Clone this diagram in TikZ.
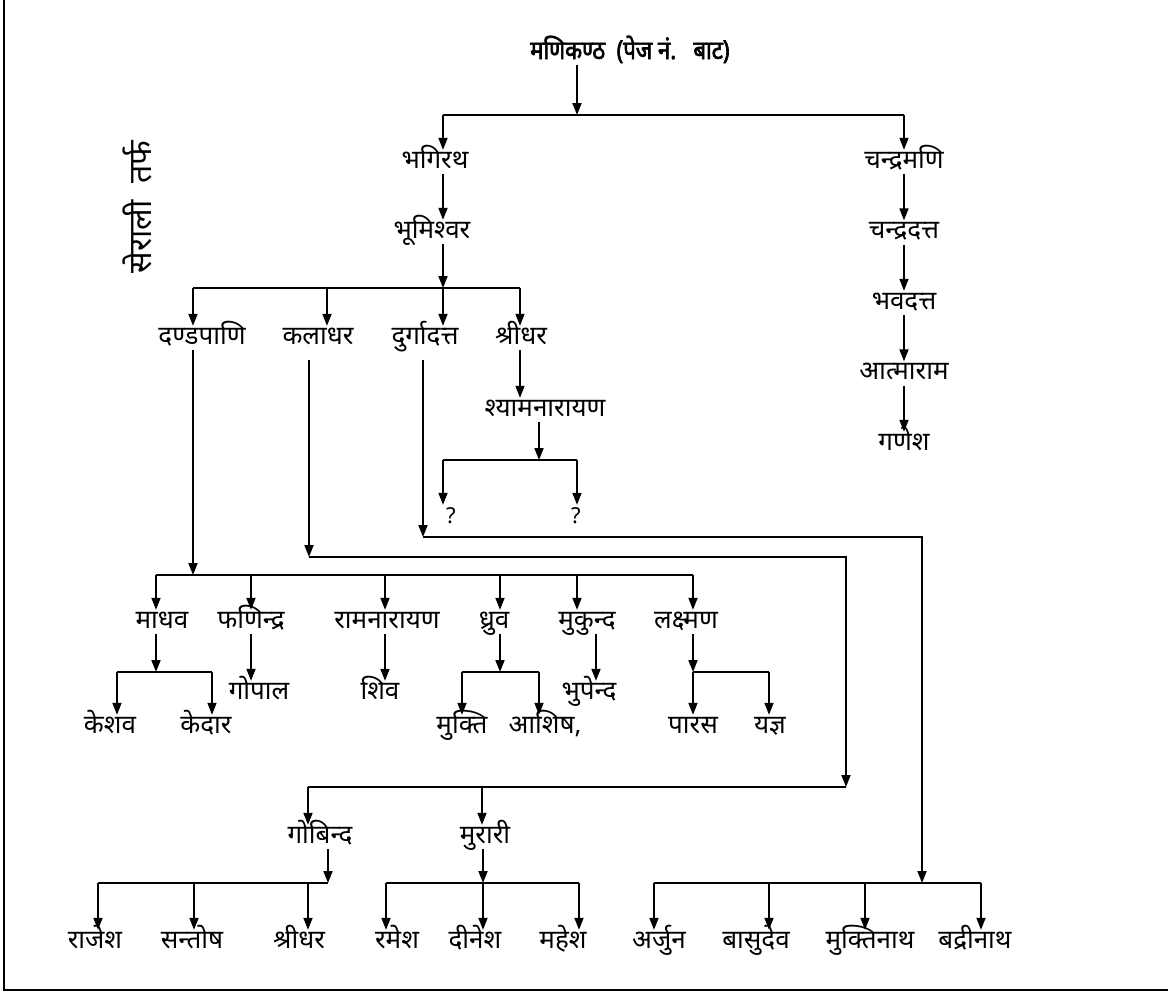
\documentclass[tikz,border=0pt]{standalone}
\usepackage{fontspec}
\usepackage{tikz}
\usetikzlibrary{arrows.meta, positioning, calc}
\newfontfamily\devfont[Script=Devanagari]{Noto Sans}
\newfontfamily\devbold[Script=Devanagari, FakeBold=2.5, FakeStretch=0.85]{Noto Sans}

\begin{document}
\begin{tikzpicture}[
    x=1pt, y=-1pt,
    node distance=70.5pt, on grid,
    person/.style={inner sep=0pt, text height=18pt, text depth=6pt,
                   font=\devfont\fontsize{26}{30}\selectfont},
    arrow/.style={-{Triangle[length=12pt, width=9pt]}, line width=1.8pt},
    bar/.style={line width=1.8pt}
]
\useasboundingbox (0,0) rectangle (1168,993);

% frame
\draw[line width=1.5pt] (4,0) -- (4,990) -- (1168,990);

\node[person, anchor=west, font=\devbold\fontsize{26}{30}\selectfont] (title) at (530,53) {मणिकण्ठ\ \ (पेज नं.\ \ \ बाट)};
\node[rotate=90, inner sep=0pt, font=\devfont\fontsize{32}{36}\selectfont] (tarf) at (137,207) {सेराली\ \ तर्फ};

% upper part
\node[person] (bhagirath) at (435,162) {भगिरथ};
\node[person] (bhumishwar) at (432,232) {भूमिश्वर};
\node[person] (chandramani) at (904,162) {चन्द्रमणि};
\node[person, below=of chandramani] (chandradatta) {चन्द्रदत्त};
\node[person, below=of chandradatta] (bhavadatta) {भवदत्त};
\node[person, below=of bhavadatta] (atmaram) {आत्माराम};
\node[person, below=of atmaram] (ganesh) {गणेश};

\node[person] (dandapani) at (202,338) {दण्डपाणि};
\node[person] (kaladhar) at (318,338) {कलाधर};
\node[person] (durgadatta) at (425,338) {दुर्गादत्त};
\node[person] (shridhar) at (521,338) {श्रीधर};
\node[person] (shyam) at (545,410) {श्यामनारायण};
\node[person, font=\devfont\fontsize{22}{26}\selectfont] (qa) at (451,517) {?};
\node[person, font=\devfont\fontsize{22}{26}\selectfont] (qb) at (576,517) {?};

% dandapani line
\node[person] (madhav) at (162,622) {माधव};
\node[person] (phanindra) at (251,622) {फणिन्द्र};
\node[person] (ramnarayan) at (387,622) {रामनारायण};
\node[person] (dhruv) at (494,622) {ध्रुव};
\node[person] (mukunda) at (587,622) {मुकुन्द};
\node[person] (lakshman) at (686,622) {लक्ष्मण};
\node[person] (gopal) at (259,693) {गोपाल};
\node[person] (shiva) at (380,693) {शिव};
\node[person] (bhupendra) at (589,693) {भुपेन्द};
\node[person] (keshav) at (110,727) {केशव};
\node[person] (kedar) at (206,727) {केदार};
\node[person] (mukti) at (462,727) {मुक्ति};
\node[person] (ashish) at (545,727) {आशिष,};
\node[person] (paras) at (693,727) {पारस};
\node[person] (yajna) at (770,727) {यज्ञ};

% kaladhar line
\node[person] (govinda) at (320,837) {गोबिन्द};
\node[person] (murari) at (485,837) {मुरारी};
\node[person] (rajesh) at (95,942) {राजेश};
\node[person] (santosh) at (192,942) {सन्तोष};
\node[person] (shridharB) at (299,942) {श्रीधर};
\node[person] (ramesh) at (397,942) {रमेश};
\node[person] (dinesh) at (475,942) {दीनेश};
\node[person] (mahesh) at (563,942) {महेश};

% durgadatta line
\node[person] (arjun) at (659,942) {अर्जुन};
\node[person] (basudev) at (756,942) {बासुदेव};
\node[person] (muktinath) at (870,942) {मुक्तिनाथ};
\node[person] (badrinath) at (975,942) {बद्रीनाथ};

% junctions
\coordinate (jTop) at (577,115);
\coordinate (jA) at (443,115);
\coordinate (jC) at (443,288);
\coordinate (jShyam) at (539,460);
\coordinate (j4) at (193,575);
\coordinate (jMadhav) at (156,672);
\coordinate (jDhruv) at (500,672);
\coordinate (jLaks) at (693,672);
\coordinate (kBend) at (309,557);
\coordinate (kTurn) at (846,557);
\coordinate (jR7) at (846,787);
\coordinate (dBend) at (423,537);
\coordinate (dTurn) at (922,537);
\coordinate (jR8) at (922,883);
\coordinate (jGov) at (328,883);
\coordinate (jMur) at (483,883);

% top
\draw[arrow] (jTop |- title.south) -- (jTop);
\draw[bar] (jA) -- (jA -| chandramani);
\draw[arrow] (jA) -- (jA |- bhagirath.north);
\draw[arrow] (jA -| chandramani) -- (chandramani);
\draw[arrow] (jA |- bhagirath.south) -- (jA |- bhumishwar.north);
\draw[arrow] (jA |- bhumishwar.south) -- (jC);
\draw[arrow] (chandramani) -- (chandradatta);
\draw[arrow] (chandradatta) -- (bhavadatta);
\draw[arrow] (bhavadatta) -- (atmaram);
\draw[arrow] (atmaram) -- (ganesh);

% sons of bhumishwar
\foreach \x/\n in {193/dandapani, 327/kaladhar, 443/durgadatta, 520/shridhar} {
  \coordinate (c\n) at (\x,288);
  \draw[arrow] (c\n) -- (c\n |- \n.north);
}
\draw[bar] (cdandapani) -- (cshridhar);
\draw[arrow] (cshridhar |- shridhar.south) -- (cshridhar |- shyam.north);
\draw[arrow] (jShyam |- shyam.south) -- (jShyam);
\foreach \x/\n in {443/qa, 577/qb} {
  \coordinate (c\n) at (\x,460);
  \draw[arrow] (c\n) -- (c\n |- \n.north);
}
\draw[bar] (cqa) -- (cqb);

% dandapani
\draw[arrow] (j4 |- dandapani.south) -- (j4);
\foreach \x/\n in {156/madhav, 251/phanindra, 385/ramnarayan, 500/dhruv, 577/mukunda, 693/lakshman} {
  \coordinate (c\n) at (\x,575);
  \draw[arrow] (c\n) -- (c\n |- \n.north);
}
\draw[bar] (cmadhav) -- (clakshman);
\draw[arrow] (jMadhav |- madhav.south) -- (jMadhav);
\draw[arrow] (jDhruv |- dhruv.south) -- (jDhruv);
\draw[arrow] (jLaks |- lakshman.south) -- (jLaks);
\draw[arrow] (cphanindra |- phanindra.south) -- (cphanindra |- gopal.north);
\draw[arrow] (cramnarayan |- ramnarayan.south) -- (cramnarayan |- shiva.north);
\draw[arrow] ($(mukunda.south)+(9,0)$) -- ($(mukunda.south |- bhupendra.north)+(9,0)$);
\foreach \x/\n in {117/keshav, 212/kedar, 462/mukti, 539/ashish, 693/paras, 769/yajna} {
  \coordinate (c\n) at (\x,672);
  \draw[arrow] (c\n) -- (c\n |- \n.north);
}
\draw[bar] (ckeshav) -- (ckedar);
\draw[bar] (cmukti) -- (cashish);
\draw[bar] (cparas) -- (cyajna);

% kaladhar
\draw[arrow] ($(kBend |- kaladhar.south)+(0,10)$) -- (kBend);
\draw[arrow] (kBend) -- (kTurn) -- (jR7);
\foreach \x/\n in {308/govinda, 482/murari} {
  \coordinate (c\n) at (\x,787);
  \draw[arrow] (c\n) -- (c\n |- \n.north);
}
\draw[bar] (cgovinda) -- (jR7);
\draw[arrow] (jGov |- govinda.south) -- (jGov);
\draw[arrow] (jMur |- murari.south) -- (jMur);
\foreach \x/\n in {98/rajesh, 194/santosh, 308/shridharB, 386/ramesh, 483/dinesh, 579/mahesh, 654/arjun, 769/basudev, 865/muktinath, 981/badrinath} {
  \coordinate (c\n) at (\x,883);
  \draw[arrow] (c\n) -- (c\n |- \n.north);
}
\draw[bar] (crajesh) -- (jGov);
\draw[bar] (cramesh) -- (cmahesh);

% durgadatta
\draw[arrow] ($(dBend |- durgadatta.south)+(0,10)$) -- (dBend);
\draw[arrow] (dBend) -- (dTurn) -- (jR8);
\draw[bar] (carjun) -- (cbadrinath);

\end{tikzpicture}
\end{document}
